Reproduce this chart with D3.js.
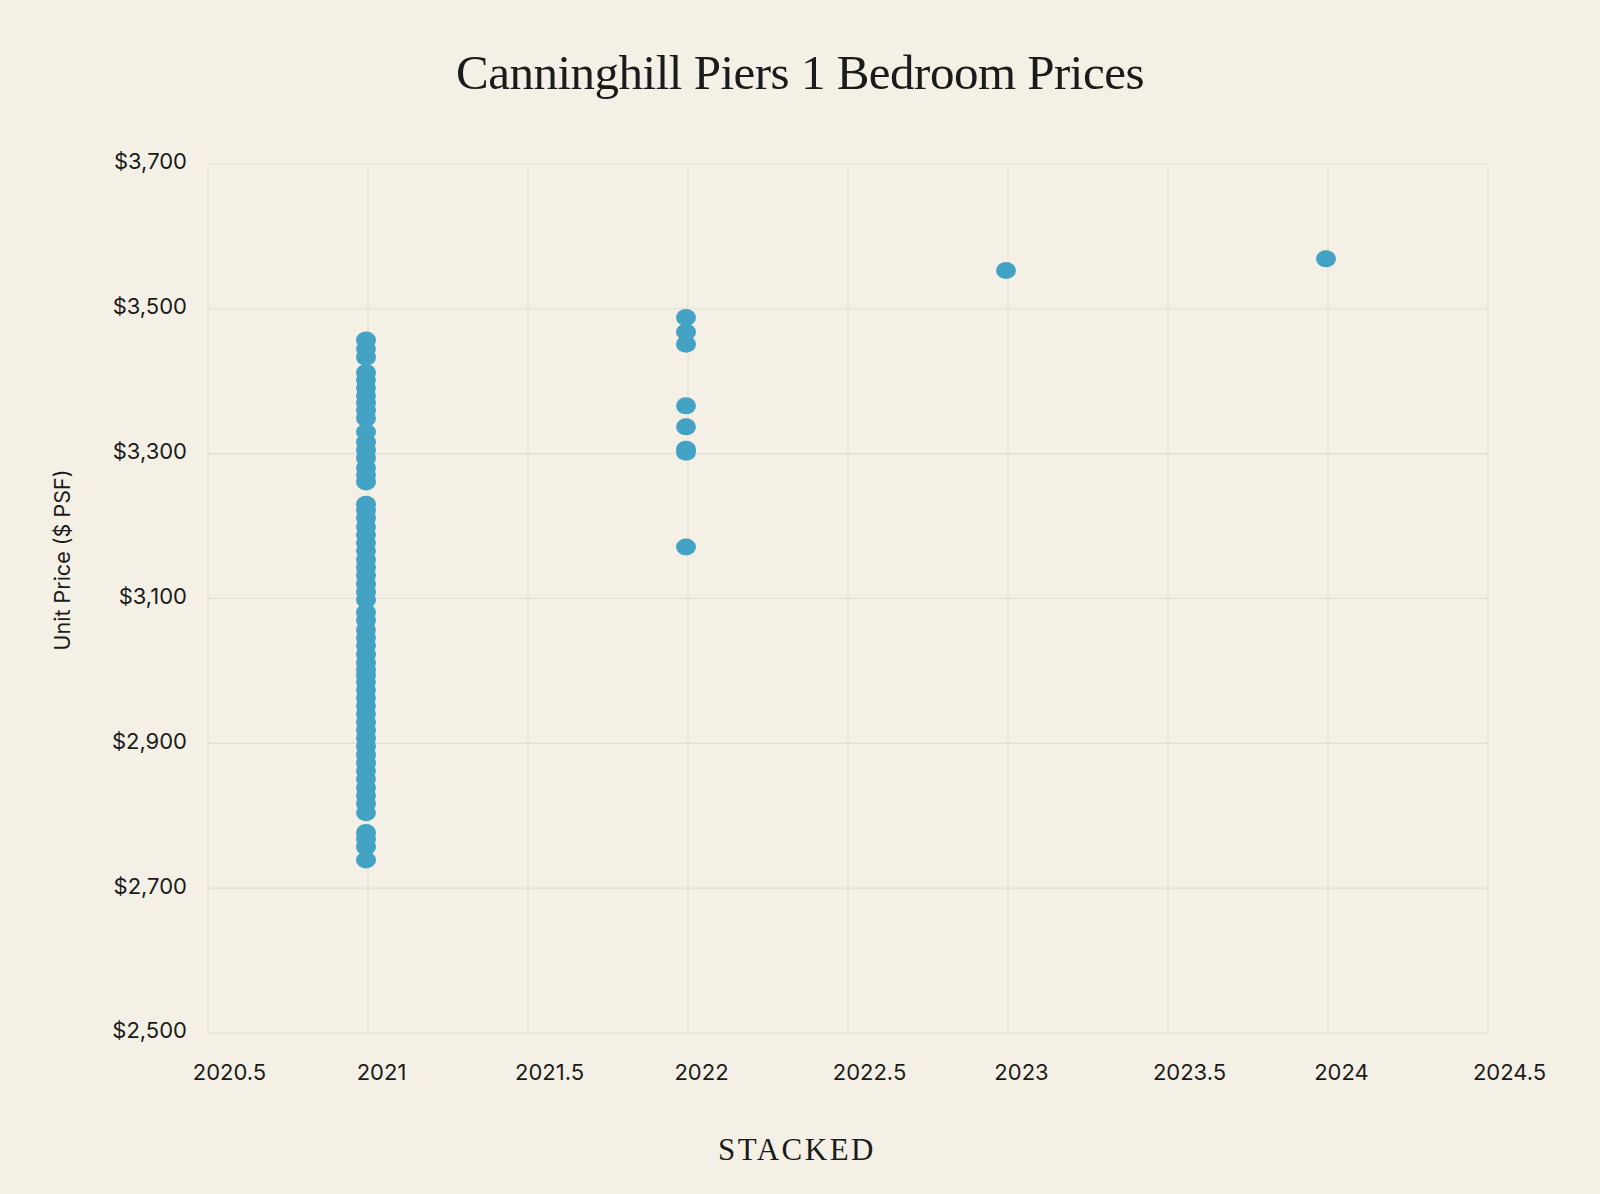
<!DOCTYPE html>
<html>
  <head>
    <title>Canninghill Piers 1 Bedroom Prices</title>
    <meta charset="utf-8">
    <script src="https://d3js.org/d3.v7.min.js"></script>
    <style>
      body { margin: 0; background: #f4f0e5; }
      svg text { fill: #1b1b1b; }
    </style>
  </head>
  <body>
    <div class="chart"></div>

    <script>

    // unit prices ($ psf) per transaction year
    var prices2021 = [3457, 3445, 3433, 3412, 3402, 3391, 3380, 3370, 3360, 3349,
                      3330, 3316, 3305, 3294, 3281, 3271, 3261,
                      3230, 3222, 3211, 3199, 3188, 3177, 3166, 3154, 3143, 3132,
                      3120, 3109, 3098, 3081, 3070, 3057, 3046, 3035, 3023, 3011,
                      3002, 2994, 2985, 2974, 2963, 2952, 2941, 2929, 2918, 2907,
                      2896, 2884, 2873, 2862, 2851, 2839, 2828, 2817, 2804,
                      2777, 2768, 2757, 2739];
    var prices2022 = [3488, 3468, 3451, 3366, 3337, 3306, 3302, 3171];
    var prices2023 = [3553];
    var prices2024 = [3569];

    var years = [2021, 2022, 2023, 2024];
    var xTicks = [2020.5, 2021, 2021.5, 2022, 2022.5, 2023, 2023.5, 2024, 2024.5];
    var yTicks = [2500, 2700, 2900, 3100, 3300, 3500, 3700];

    var width = 1600, height = 1194;
    var margin = {top: 164, right: 112, bottom: 161, left: 208};
    var color = "#44a2c4";

    var svg = d3.select(".chart").append("svg")
      .attr("width", width)
      .attr("height", height)
      .style("background", "#f4f0e5");

    var x = d3.scaleLinear().domain([2020.5, 2024.5]).range([margin.left, width - margin.right]);
    var y = d3.scaleLinear().domain([2500, 3700]).range([height - margin.bottom, margin.top]);

    // flatten into points
    var points = [];
    [prices2021, prices2022, prices2023, prices2024].forEach(function(list, i){
      list.forEach(function(p){ points.push({year: years[i], price: p}); });
    });

    // grid
    svg.append("g").selectAll("line")
      .data(xTicks)
      .enter().append("line")
      .attr("x1", function(d){ return x(d); })
      .attr("x2", function(d){ return x(d); })
      .attr("y1", y(3700))
      .attr("y2", y(2500))
      .attr("stroke", "#e4e0d6")
      .attr("stroke-width", 1.2);

    svg.append("g").selectAll("line")
      .data(yTicks)
      .enter().append("line")
      .attr("x1", x(2020.5))
      .attr("x2", x(2024.5))
      .attr("y1", function(d){ return y(d); })
      .attr("y2", function(d){ return y(d); })
      .attr("stroke", "#e4e0d6")
      .attr("stroke-width", 1.2);

    // axes (labels only, lines come from the grid)
    var yAxis = svg.append("g")
      .attr("transform", "translate(" + (margin.left - 21) + ",0)")
      .call(d3.axisLeft(y).tickValues(yTicks).tickSize(0).tickPadding(0)
        .tickFormat(function(d){ return "$" + d3.format(",")(d); }));
    yAxis.select(".domain").remove();
    yAxis.selectAll("text")
      .attr("dy", "0.22em")
      .style("font-family", "Inter, 'Noto Sans', sans-serif")
      .style("font-size", "22px")
      .style("fill", "#1b1b1b");

    var xAxis = svg.append("g")
      .attr("transform", "translate(0," + (height - margin.bottom + 31) + ")")
      .call(d3.axisBottom(x).tickValues(xTicks).tickSize(0).tickPadding(0)
        .tickFormat(function(d){ return String(d); }));
    xAxis.select(".domain").remove();
    xAxis.selectAll("text")
      .attr("dx", function(d){ return (d % 1 ? 21 : 13) + "px"; })
      .attr("dy", "0.71em")
      .style("font-family", "Inter, 'Noto Sans', sans-serif")
      .style("font-size", "22px")
      .style("fill", "#1b1b1b");

    // dots
    svg.append("g").selectAll("ellipse")
      .data(points)
      .enter().append("ellipse")
      .attr("cx", function(d){ return x(d.year) - 2; })
      .attr("cy", function(d){ return y(d.price); })
      .attr("rx", 10)
      .attr("ry", 8.5)
      .attr("fill", color);

    // titles
    svg.append("text")
      .attr("x", 800)
      .attr("y", 89)
      .attr("text-anchor", "middle")
      .style("font-family", "'Liberation Serif', 'DejaVu Serif', serif")
      .style("font-size", "49px")
      .style("letter-spacing", "-0.5px")
      .text("Canninghill Piers 1 Bedroom Prices");

    svg.append("text")
      .attr("transform", "translate(70,560) rotate(-90)")
      .attr("text-anchor", "middle")
      .style("font-family", "Inter, 'Noto Sans', sans-serif")
      .style("font-size", "21.5px")
      .text("Unit Price ($ PSF)");

    svg.append("text")
      .attr("x", 797)
      .attr("y", 1160)
      .attr("text-anchor", "middle")
      .style("font-family", "'Liberation Serif', 'DejaVu Serif', serif")
      .style("font-size", "31px")
      .style("letter-spacing", "2.5px")
      .text("STACKED");

    </script>
  </body>
</html>
